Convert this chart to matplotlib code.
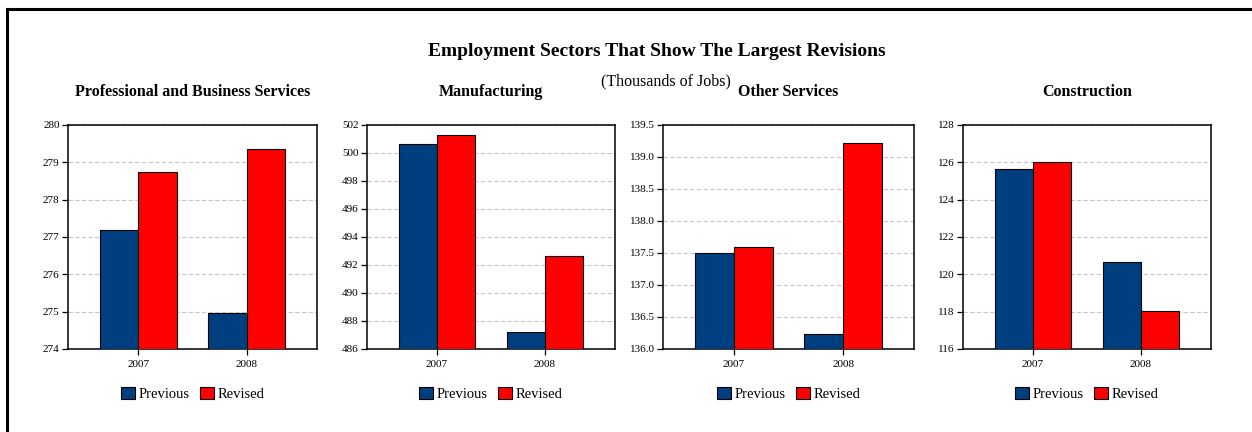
import numpy as np
import matplotlib
matplotlib.use("Agg")
import matplotlib.pyplot as plt
from matplotlib.lines import Line2D
from matplotlib.patches import Patch
from matplotlib.ticker import FormatStrFormatter

plt.rcParams['font.family'] = ['Liberation Serif', 'DejaVu Serif']

# Data (thousands of jobs)
years = ["2007", "2008"]
sectors = ["Professional and Business Services", "Manufacturing",
           "Other Services", "Construction"]
previous_pbs = [277.2, 274.96]
revised_pbs = [278.73, 279.35]
previous_mfg = [500.62, 487.24]
revised_mfg = [501.26, 492.64]
previous_oth = [137.5, 136.23]
revised_oth = [137.6, 139.22]
previous_con = [125.64, 120.68]
revised_con = [126.0, 118.04]

y_ranges = [(274, 280, 1), (486, 502, 2), (136.0, 139.5, 0.5), (116, 128, 2)]
y_formats = ["%d", "%d", "%.1f", "%d"]

PREV_COLOR = "#003F7F"
REV_COLOR = "#FF0000"

W, H = 1252, 432
fig = plt.figure(figsize=(W / 100, H / 100), dpi=100)

# Frame lines along top and left edges
fig.add_artist(Line2D([7 / W, 7 / W], [0, 1 - 9 / H], color="black", lw=2.2,
                      transform=fig.transFigure))
fig.add_artist(Line2D([7 / W, 1], [1 - 9 / H, 1 - 9 / H], color="black", lw=2.2,
                      transform=fig.transFigure))

fig.text(657 / W, 1 - 51 / H, "Employment Sectors That Show The Largest Revisions",
         ha="center", va="center", fontsize=14, fontweight="bold")
fig.text(666 / W, 1 - 81 / H, "(Thousands of Jobs)", ha="center", va="center",
         fontsize=11.5)

panel_px = [(68, 317), (367, 615), (663, 914), (963, 1211)]
top_px, bot_px = 125, 349

series = [(previous_pbs, revised_pbs), (previous_mfg, revised_mfg),
          (previous_oth, revised_oth), (previous_con, revised_con)]

x = np.arange(len(years))
bw = 0.356

for i, (name, (prev, rev), (lo, hi, step), fmt, (l, r)) in enumerate(
        zip(sectors, series, y_ranges, y_formats, panel_px)):
    ax = fig.add_axes([l / W, 1 - bot_px / H, (r - l) / W, (bot_px - top_px) / H])
    ax.bar(x - bw / 2, np.array(prev) - lo, bw, bottom=lo, color=PREV_COLOR,
           edgecolor="black", linewidth=0.8, zorder=3)
    ax.bar(x + bw / 2, np.array(rev) - lo, bw, bottom=lo, color=REV_COLOR,
           edgecolor="black", linewidth=0.8, zorder=3)
    ax.set_xlim(-0.65, 1.65)
    ax.set_ylim(lo, hi)
    ax.set_yticks(np.arange(lo, hi + step / 2, step))
    ax.yaxis.set_major_formatter(FormatStrFormatter(fmt))
    ax.set_xticks(x)
    ax.set_xticklabels(years)
    ax.tick_params(axis="both", labelsize=8, length=4, width=0.9,
                   direction="out", colors="black")
    ax.tick_params(axis="x", pad=4)
    ax.tick_params(axis="y", pad=2)
    ax.grid(axis="y", color="#C8C8C8", linestyle=(0, (4, 2)), linewidth=0.8,
            zorder=0)
    for sp in ax.spines.values():
        sp.set_color("black")
        sp.set_linewidth(1.1)
    ax.set_title(name, fontsize=11.5, fontweight="bold", pad=21)
    handles = [Patch(facecolor=PREV_COLOR, edgecolor="black", linewidth=0.8),
               Patch(facecolor=REV_COLOR, edgecolor="black", linewidth=0.8)]
    ax.legend(handles, ["Previous", "Revised"], loc="center",
              bbox_to_anchor=(0.5, -45 / (bot_px - top_px)), ncol=2,
              frameon=False, fontsize=10.5, handlelength=0.95, handleheight=0.95,
              handletextpad=0.25, columnspacing=0.7, borderaxespad=0)

fig.savefig("out.png", dpi=100, facecolor="white")
